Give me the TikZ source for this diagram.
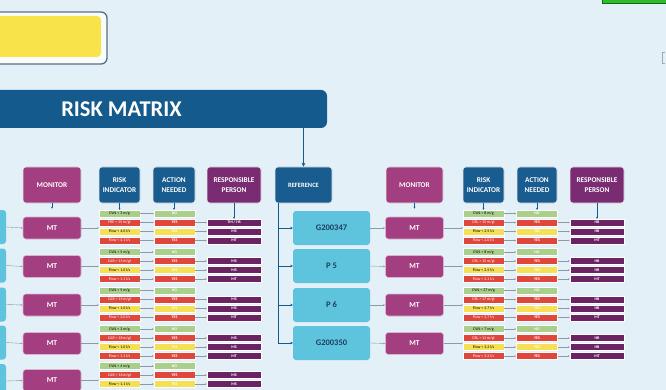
\documentclass[tikz,border=0pt]{standalone}
\usepackage{fontspec}
\setmainfont{Carlito}
\usetikzlibrary{arrows.meta}
\definecolor{bgc}{HTML}{E3F0F7}
\definecolor{navy}{HTML}{145A8C}
\definecolor{hblue}{HTML}{195C8F}
\definecolor{cyanbox}{HTML}{5EC3DD}
\definecolor{magbox}{HTML}{A33E80}
\definecolor{hpur}{HTML}{7A2C73}
\definecolor{pcell}{HTML}{6A2464}
\definecolor{cg}{HTML}{A9CF8A}
\definecolor{cr}{HTML}{DF473D}
\definecolor{cy}{HTML}{F4DF55}
\definecolor{ylw}{HTML}{F8E44A}
\definecolor{garrc}{HTML}{8C99A6}
\definecolor{reftxt}{HTML}{1B3F5E}
\definecolor{frame}{HTML}{5A6E85}
\tikzset{
  hdr/.style={rounded corners=3pt, draw=white!80!gray, line width=0.6pt, inner sep=0pt, align=center,
    minimum height=36pt, text=white, font=\bfseries\fontsize{7.3}{10}\selectfont},
  mt/.style={rounded corners=3pt, draw=magbox!40!white, line width=0.6pt, fill=magbox, inner sep=0pt,
    minimum width=58pt, minimum height=22pt, text=white, font=\bfseries\fontsize{7.5}{8}\selectfont},
  refbox/.style={rounded corners=3pt, fill=cyanbox, inner sep=0pt, minimum width=77pt, minimum height=34pt,
    text=reftxt, font=\bfseries\fontsize{8.5}{9}\selectfont},
  rc/.style={draw=white, line width=0.3pt, inner sep=0pt, minimum width=41pt, minimum height=7pt,
    font=\fontsize{4}{4.5}\selectfont},
  ac/.style={draw=white, line width=0.3pt, inner sep=0pt, minimum width=41pt, minimum height=7pt, text=white,
    font=\bfseries\fontsize{4}{4.5}\selectfont},
  pc/.style={draw=white, line width=0.3pt, fill=pcell, inner sep=0pt, minimum width=54pt, minimum height=7pt, text=white,
    font=\bfseries\fontsize{4}{4.5}\selectfont},
  garr/.style={draw=garrc, line width=0.4pt, -{Stealth[length=2pt,width=1.6pt]}},
  harr/.style={draw=navy, line width=0.5pt, -{Stealth[length=2pt,width=2pt]}},
  narr/.style={draw=navy, line width=0.9pt, -{Stealth[length=4pt,width=4pt]}}
}
% group: MT box and first three rows
\newcommand\riskgrp[8]{%
  \node[mt] (#1mt#2) at (\xM,#3) {MT};
  \node[rc, fill=cg] (#1r#2a) at (\xRI,#3-14.5) {#4};
  \node[rc, fill=cr, text=white] (#1r#2b) at (\xRI,#3-5.5) {#5};
  \node[rc, fill=cy] (#1r#2c) at (\xRI,#3+3.5) {#6};
  \node[ac, fill=cg] (#1a#2a) at (\xAN,#3-14.5) {NO};
  \node[ac, fill=cr] (#1a#2b) at (\xAN,#3-5.5) {YES};
  \node[ac, fill=cy] (#1a#2c) at (\xAN,#3+3.5) {YES};
  \node[pc] (#1p#2b) at (\xRP,#3-5.5) {#7};
  \node[pc] (#1p#2c) at (\xRP,#3+3.5) {#8};
  \draw[garr] (#1mt#2.east) -- (#1mt#2.east -| #1r#2a.west);
  \foreach \k in {a,b,c} {\draw[garr] (#1r#2\k.east) -- (#1a#2\k.west);}
  \foreach \k in {b,c} {\draw[garr] (#1a#2\k.east) -- (#1p#2\k.west);}
}
% fourth row of a group
\newcommand\riskrowd[4]{%
  \node[rc, fill=cr, text=white] (#1r#2d) at (\xRI,#3+12.5) {#4};
  \node[ac, fill=cr] (#1a#2d) at (\xAN,#3+12.5) {YES};
  \node[pc] (#1p#2d) at (\xRP,#3+12.5) {MT};
  \draw[garr] (#1r#2d.east) -- (#1a#2d.west);
  \draw[garr] (#1a#2d.east) -- (#1p#2d.west);
}
\begin{document}
\begin{tikzpicture}[x=1pt,y=-1pt]
\useasboundingbox (0,0) rectangle (666,390);
\clip (0,0) rectangle (666,390);
\fill[bgc] (0,0) rectangle (666,390);
% top decorations
\node[draw=frame, line width=1.3pt, fill=white!80!bgc, rounded corners=6pt, minimum width=130pt, minimum height=52pt, inner sep=0pt] (yframe) at (42,38) {};
\node[fill=ylw, rounded corners=4pt, minimum width=122pt, minimum height=41pt, inner sep=0pt] (ybox) at (40,36.5) {};
\node[fill=green!65!black!80!white, draw=green!45!black, line width=0.4pt, minimum width=66pt, minimum height=4pt, inner sep=0pt] (gbar) at (635,1) {};
\draw[gray!70, line width=0.6pt] (665,52) -- (662,52) -- (662,63) -- (665,63);
% risk matrix bar
\node[fill=navy, rounded corners=6pt, minimum width=350pt, minimum height=38pt, inner sep=0pt] (rm) at (152,109) {};
\node[text=white, font=\bfseries\fontsize{22.5}{24}\selectfont] (rmt) at (121.5,109) {RISK MATRIX};
% reference
\node[hdr, fill=hblue, minimum width=57pt, font=\bfseries\fontsize{6.5}{7}\selectfont] (ref) at (303.5,185) {REFERENCE};
\draw[narr] (rm.south -| ref) -- (ref.north);
\node[refbox] (rb1) at (331.5,228) {G200347};
\node[refbox] (rb2) at (331.5,266) {P 5};
\node[refbox] (rb3) at (331.5,305) {P 6};
\node[refbox] (rb4) at (331.5,343) {G200350};
\foreach \i in {1,...,4} {\draw[draw=navy, line width=0.9pt, -{Stealth[length=2.5pt,width=2.5pt]}] ([xshift=4pt]ref.south west) |- (rb\i.west);}
% left headers
\node[hdr, fill=magbox, minimum width=58pt] (Lmon) at (52,185) {MONITOR};
\node[hdr, fill=hblue, minimum width=41pt] (Lri) at (119.5,185) {RISK\\INDICATOR};
\node[hdr, fill=hblue, minimum width=42pt] (Lan) at (174,185) {ACTION\\NEEDED};
\node[hdr, fill=hpur, minimum width=54pt] (Lrp) at (234,185) {RESPONSIBLE\\PERSON};
% right headers
\node[hdr, fill=magbox, minimum width=57pt] (Rmon) at (414.5,185) {MONITOR};
\node[hdr, fill=hblue, minimum width=41pt] (Rri) at (483.5,185) {RISK\\INDICATOR};
\node[hdr, fill=hblue, minimum width=40pt] (Ran) at (537,185) {ACTION\\NEEDED};
\node[hdr, fill=hpur, minimum width=54pt] (Rrp) at (597,185) {RESPONSIBLE\\PERSON};
% left groups
\def\xM{52}\def\xRI{119.5}\def\xAN{174.5}\def\xRP{234}
\riskgrp{L}{0}{228}{CWL < 3 m/g}{FRE > 15 m/gl}{Flow < 4.0 l/s}{TM / HS}{MS}
\riskrowd{L}{0}{228}{Flow < 4.1 l/s}
\riskgrp{L}{1}{266.5}{CWL < 5 m/g}{CAR > 15 m/gl}{Flow < 1.0 l/s}{MS}{MS}
\riskrowd{L}{1}{266.5}{Flow < 1.1 l/s}
\riskgrp{L}{2}{305}{CWL < 5 m/g}{CAR > 15 m/gl}{Flow < 1.0 l/s}{MS}{MS}
\riskrowd{L}{2}{305}{Flow < 2.0 l/s}
\riskgrp{L}{3}{343.5}{CWL < 3 m/g}{CAR > 18 m/gl}{Flow < 1.0 l/s}{MS}{MS}
\riskrowd{L}{3}{343.5}{Flow < 1.1 l/s}
\riskgrp{L}{4}{380.5}{CWL < 4 m/g}{CAR > 16 m/gl}{Flow < 1.1 l/s}{MS}{MS}
\foreach \i/\yy in {1/227,2/265.5,3/304.5,4/342.5,5/381} {
  \node[refbox, minimum width=30pt] (lb\i) at (-9,\yy) {};
}
\foreach \i/\g in {1/0,2/1,3/2,4/3,5/4} {\draw[garr] (lb\i.east) -- (Lmt\g.west);}
% right groups
\def\xM{414.5}\def\xRI{483.5}\def\xAN{537}\def\xRP{597}
\riskgrp{R}{0}{228}{CWL < 8 m/g}{CRL > 15 m/gl}{Flow < 2.5 l/s}{HB}{HB}
\riskrowd{R}{0}{228}{Flow < 2.0 l/s}
\riskgrp{R}{1}{266.5}{CWL < 8 m/g}{CRL > 15 m/gl}{Flow < 2.5 l/s}{HB}{HB}
\riskrowd{R}{1}{266.5}{Flow < 2.1 l/s}
\riskgrp{R}{2}{305}{CWL < 27 m/g}{CRL > 17 m/gl}{Flow < 2.7 l/s}{HB}{HB}
\riskrowd{R}{2}{305}{Flow < 2.7 l/s}
\riskgrp{R}{3}{343.5}{CWL < 7 m/g}{CRL > 11 m/gl}{Flow < 3.2 l/s}{HB}{HB}
\riskrowd{R}{3}{343.5}{Flow < 3.2 l/s}
\foreach \i/\g in {1/0,2/1,3/2,4/3} {\draw[garr] (rb\i.east) -- (Rmt\g.west);}
% header arrows
\foreach \s in {L,R} {
  \draw[harr, shorten >=8pt] (\s mon.south) -- (\s mt0.north);
  \draw[harr] (\s ri.south) -- (\s ri.south |- \s r0a.north);
  \draw[harr] (\s an.south) -- (\s an.south |- \s a0a.north);
  \draw[harr] (\s rp.south) -- (\s rp.south |- \s p0b.north);
}
\end{tikzpicture}
\end{document}
